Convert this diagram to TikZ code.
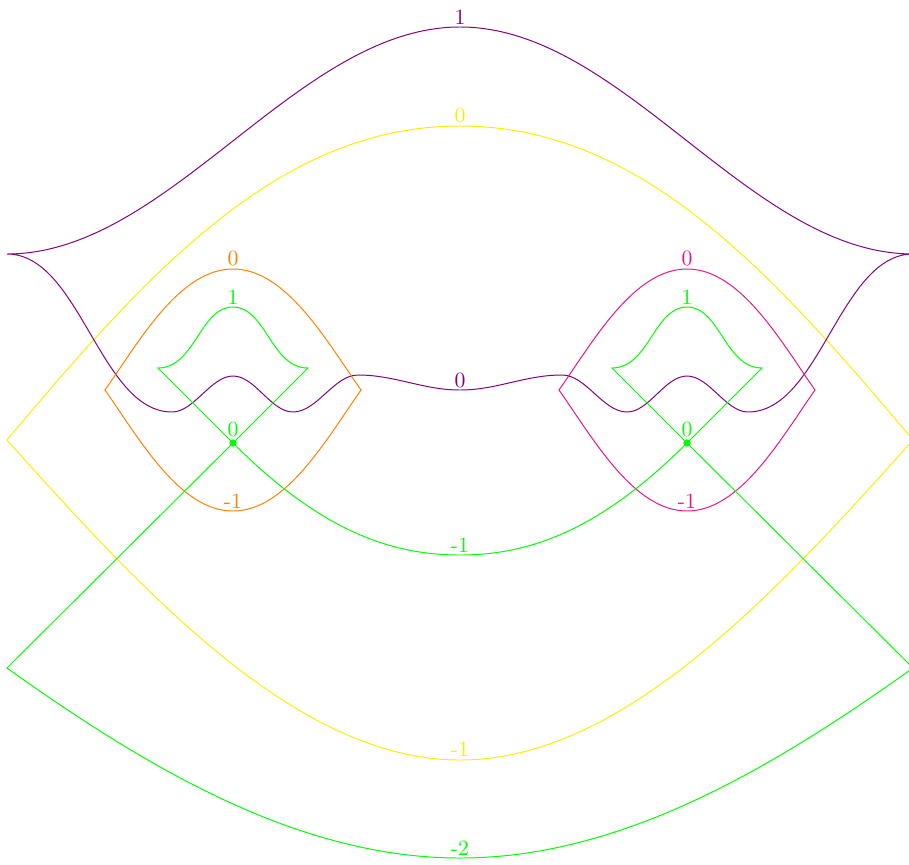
\documentclass[tikz,border=0pt]{standalone}
\begin{document}
\begin{tikzpicture}[x=0.46pt,y=-0.46pt]
\definecolor{cpurple}{RGB}{128,0,128}
\definecolor{cyellow}{RGB}{255,235,0}
\definecolor{corange}{RGB}{255,128,0}
\definecolor{cgreen}{RGB}{0,255,0}
\definecolor{cpink}{RGB}{232,20,140}
\tikzset{lbl/.style={inner sep=0pt,font=\normalsize},
  front/.style={line width=0.45pt}}
\useasboundingbox (0,0) rectangle (909,864);
\clip (0,0) rectangle (909,864);
% yellow eye
\draw[front,cyellow] (7,440) .. controls (150,270) and (280,126) .. (460,126)
  .. controls (640,126) and (770,270) .. (913,440)
  .. controls (770,600) and (620,760) .. (460,760)
  .. controls (300,760) and (150,600) .. (7,440) -- cycle;
% purple
\draw[front,cpurple] (7,254) .. controls (170,254) and (297,27) .. (460,27)
  .. controls (623,27) and (750,254) .. (913,254)
  .. controls (840,254) and (820,412) .. (748,412)
  .. controls (726,412) and (709,376) .. (687,376)
  .. controls (665,376) and (649,412) .. (627,412)
  .. controls (603,412) and (586,375) .. (562,375)
  .. controls (525,375) and (497,390) .. (460,390)
  .. controls (423,390) and (395,375) .. (358,375)
  .. controls (334,375) and (317,412) .. (293,412)
  .. controls (271,412) and (255,376) .. (233,376)
  .. controls (211,376) and (194,412) .. (172,412)
  .. controls (100,412) and (80,254) .. (7,254);
% orange
\draw[front,corange] (105,390) .. controls (140,340) and (180,269) .. (233,269)
  .. controls (286,269) and (326,340) .. (361,390)
  .. controls (326,440) and (286,511) .. (233,511)
  .. controls (180,511) and (140,440) .. (105,390) -- cycle;
% pink
\draw[front,cpink] (559,390) .. controls (594,340) and (634,269) .. (687,269)
  .. controls (740,269) and (780,340) .. (815,390)
  .. controls (780,440) and (740,511) .. (687,511)
  .. controls (634,511) and (594,440) .. (559,390) -- cycle;
% green
\coordinate (dL) at (233,443);
\coordinate (dR) at (687,443);
\draw[front,cgreen] (7,668) -- (dL) -- (308,368)
  .. controls (271,368) and (266,307) .. (233,307)
  .. controls (200,307) and (195,368) .. (158,368) -- (dL)
  .. controls (320,530) and (390,555) .. (460,555)
  .. controls (530,555) and (600,530) .. (dR) -- (762,368)
  .. controls (725,368) and (720,307) .. (687,307)
  .. controls (654,307) and (649,368) .. (612,368) -- (dR) -- (913,668)
  .. controls (770,770) and (620,858) .. (460,858)
  .. controls (300,858) and (150,770) .. (7,668) -- cycle;
\fill[cgreen] (dL) circle[radius=1.7pt];
\fill[cgreen] (dR) circle[radius=1.7pt];
% labels
\node[lbl,text=cpurple] (l1) at (460,17) {1};
\node[lbl,text=cyellow] (l2) at (460,115) {0};
\node[lbl,text=corange] (l3) at (233,258) {0};
\node[lbl,text=cgreen] (l4) at (233,297) {1};
\node[lbl,text=cgreen] (l5) at (233,429) {0};
\node[lbl,text=corange] (l6) at (233,501) {-1};
\node[lbl,text=cpink] (l7) at (687,258) {0};
\node[lbl,text=cgreen] (l8) at (687,297) {1};
\node[lbl,text=cgreen] (l9) at (687,429) {0};
\node[lbl,text=cpink] (l10) at (687,501) {-1};
\node[lbl,text=cpurple] (l11) at (460,380) {0};
\node[lbl,text=cgreen] (l12) at (460,545) {-1};
\node[lbl,text=cyellow] (l13) at (460,749) {-1};
\node[lbl,text=cgreen] (l14) at (460,848) {-2};
\end{tikzpicture}
\end{document}
